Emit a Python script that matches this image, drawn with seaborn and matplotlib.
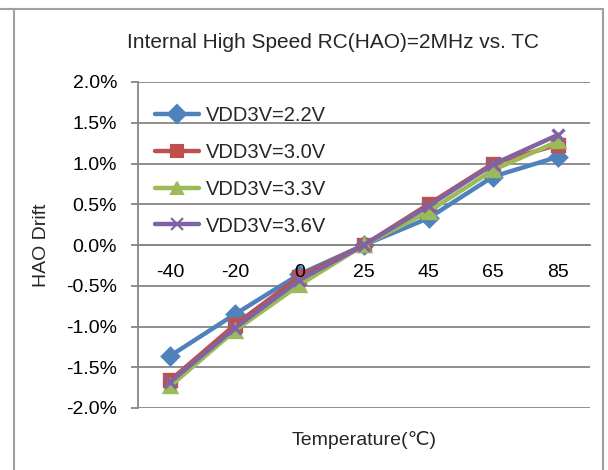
import matplotlib
matplotlib.use("Agg")
import matplotlib.pyplot as plt
import seaborn as sns
import pandas as pd
from matplotlib.ticker import FuncFormatter, MultipleLocator
from matplotlib.lines import Line2D

temps = ["-40", "-20", "0", "25", "45", "65", "85"]
series = ["VDD3V=2.2V", "VDD3V=3.0V", "VDD3V=3.3V", "VDD3V=3.6V"]
drift_22 = [-1.36, -0.85, -0.36, 0.0, 0.33, 0.84, 1.08]
drift_30 = [-1.66, -0.98, -0.39, 0.0, 0.50, 1.00, 1.23]
drift_33 = [-1.73, -1.05, -0.49, 0.0, 0.41, 0.92, 1.27]
drift_36 = [-1.68, -1.02, -0.43, 0.0, 0.48, 0.99, 1.35]
colors = ["#4F81BD", "#C0504D", "#9BBB59", "#8064A2"]
markers = ["D", "s", "^", "x"]

rows = []
for name, vals in zip(series, [drift_22, drift_30, drift_33, drift_36]):
    for t, v in zip(temps, vals):
        rows.append({"Temperature": t, "Drift": v, "Series": name})
df = pd.DataFrame(rows)

sns.set_theme(style="white")
FONT = ["Liberation Sans", "DejaVu Sans"]
plt.rcParams["font.family"] = FONT

fig = plt.figure(figsize=(6.08, 4.70), dpi=100)
ax = fig.add_axes([138/608, 1-408/470, (590-138)/608, (408-82)/470])

sns.pointplot(data=df, x="Temperature", y="Drift", hue="Series", order=temps,
              hue_order=series, palette=colors, markers=markers,
              linestyles=["-"]*4, markersize=8, linewidth=3.2, ax=ax,
              errorbar=None, legend=False)

ax.set_ylim(-2.0, 2.0)
ax.set_xlim(-0.5, 6.5)
ax.yaxis.set_major_locator(MultipleLocator(0.5))
ax.yaxis.set_major_formatter(FuncFormatter(lambda v, p: f"{v:.1f}%"))
ax.grid(axis="y", color="#868686", linewidth=1.3)
ax.grid(axis="x", visible=False)
ax.set_axisbelow(True)
ax.xaxis.set_zorder(5)

for s in ["top", "right"]:
    ax.spines[s].set_visible(False)
ax.spines["left"].set_color("#868686")
ax.spines["left"].set_linewidth(1.3)
ax.spines["bottom"].set_position(("data", 0))
ax.spines["bottom"].set_color("#868686")
ax.spines["bottom"].set_linewidth(1.3)
ax.spines["bottom"].set_zorder(0.6)

ax.tick_params(axis="y", left=True, length=5, width=1.3, color="#868686",
               pad=10, labelsize=14, labelcolor="black")
ax.tick_params(axis="x", bottom=False, length=0, pad=14, labelsize=14,
               labelcolor="black")

ax.set_xlabel("Temperature(℃)", fontsize=14, family=FONT)
ax.xaxis.set_label_coords(0.5, -0.07)
ax.set_ylabel("HAO Drift", fontsize=14, family=FONT)
ax.yaxis.set_label_coords(-0.195, 0.5)

handles = [Line2D([], [], color=c, marker=m, linewidth=3.2, markersize=9,
                  markeredgewidth=1.5)
           for c, m in zip(colors, markers)]
ax.legend(handles, series, loc="upper left", bbox_to_anchor=(0.02, 0.95),
          frameon=False, fontsize=14.5, handlelength=2.2, handletextpad=0.3,
          labelspacing=0.88, borderaxespad=0)

fig.text(333/608, 1-42/470, "Internal High Speed RC(HAO)=2MHz vs. TC",
         ha="center", va="center", fontsize=15, family=FONT)

# outer frame
gc = "#A0A0A0"
fig.add_artist(Line2D([0, 603/608], [1-8.5/470]*2, color=gc, lw=1.5))
fig.add_artist(Line2D([13.5/608]*2, [0, 1-8.5/470], color=gc, lw=1.5))
fig.add_artist(Line2D([603/608]*2, [0, 1-8.5/470], color=gc, lw=1.5))

fig.savefig("out.png", dpi=100)
